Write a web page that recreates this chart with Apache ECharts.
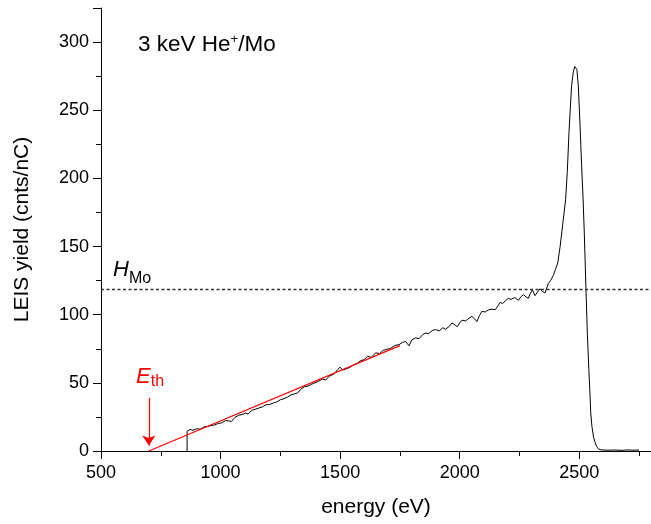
<!DOCTYPE html>
<html>
<head>
<meta charset="utf-8">
<script src="https://cdn.jsdelivr.net/npm/echarts@6/dist/echarts.min.js"></script>
<style>html,body{margin:0;padding:0;background:#fff}#c{width:651px;height:524px}</style>
</head>
<body>
<div id="c"></div>
<script>
// ---- data ----
const energy = [860,860,872,885,900,915,930,945,960,975,990,1005,1020,1035,1045,1060,1075,1090,1105,1115,1130,1145,1160,1175,1190,1205,1220,1235,1250,1265,1280,1295,1310,1322,1335,1350,1365,1380,1395,1410,1426,1440,1455,1475,1490,1500,1510,1525,1540,1555,1570,1585,1600,1615,1630,1649,1665,1680,1695,1710,1730,1746,1760,1774,1788,1800,1815,1830,1845,1857,1870,1885,1899,1915,1930,1940,1955,1968,1980,1990,2000,2010,2025,2040,2051,2062,2072,2083,2093,2107,2120,2135,2149,2162,2169,2180,2192,2204,2215,2230,2246,2255,2267,2278,2287,2296,2304,2310,2315,2325,2336,2346,2357,2364,2371,2380,2392,2400,2410,2420,2430,2443,2450,2457,2463,2468,2475,2481,2485,2490,2496,2503,2510,2516,2521,2528,2534,2540,2544,2548,2553,2560,2565,2572,2580,2592,2620,2650,2680,2700,2720,2750];
const leisYield = [0,14.5,15.8,15.2,16.3,16.0,17.6,17.9,18.7,19.1,20.2,20.6,22.3,22.1,21.6,24.6,26.2,26.8,27.9,27.0,29.8,30.6,31.5,32.4,33.9,34.1,35.2,36.0,37.6,38.4,39.6,41.2,42.0,42.6,45.2,47.1,47.6,48.9,50.1,51.2,52.7,52.1,54.9,56.6,59.8,61.5,59.4,60.2,61.3,63.2,64.1,66.2,67.0,69.5,68.7,72.0,71.5,73.8,74.6,75.2,77.5,78.0,79.6,80.3,77.2,81.5,83.0,82.4,85.3,86.5,86.0,88.4,89.1,88.2,90.5,89.3,91.2,94.0,92.5,91.2,94.0,96.0,95.4,97.6,98.7,97.0,95.0,99.5,102.4,102.0,103.5,104.0,103.7,107.0,109.0,108.2,110.4,112.0,111.2,112.6,110.5,113.0,114.7,113.0,112.0,115.8,118.4,115.8,114.0,116.5,119.0,117.0,116.0,119.5,123.0,125.0,129.0,133.0,138.0,150.0,165.0,184.6,205.0,233.6,253.0,268.0,278.0,282.0,282.6,280.0,268.0,240.0,209.0,185.0,160.0,119.0,85.0,60.0,45.0,28.0,18.0,10.0,7.0,3.5,1.6,0.8,0.6,0.7,0.5,0.8,0.6,0.7];
const fitEnergy = [700, 1750];
const fitYield = [0, 77.3];
const hMoLevel = 119;
const eThreshold = 700;
const arrowFromYield = 39;
const arrowToYield = 4;
const xMin = 500, xMax = 2800, xStep = 500, xLastLabel = 2500;
const yMin = 0, yMax = 325, yStep = 50, yLastLabel = 300;
const titleText = '3 keV He{sup|+}/Mo';
const xName = 'energy (eV)';
const yName = 'LEIS yield (cnts/nC)';
const hMoLabelAt = [630, 132.7];
const eThLabelAt = [705, 54.4];

// ---- chart ----
const FONT = 'Liberation Sans, Arial, sans-serif';
const spectrum = energy.map((e, i) => [e, leisYield[i]]);
const fit = fitEnergy.map((e, i) => [e, fitYield[i]]);

const chart = echarts.init(document.getElementById('c'), null, {renderer: 'canvas'});
chart.setOption({
  animation: false,
  title: {
    text: titleText,
    left: 138, top: 33, padding: 0,
    textStyle: {
      fontFamily: FONT, fontSize: 22.5, fontWeight: 'normal', color: '#000',
      rich: { sup: { fontFamily: FONT, fontSize: 13, verticalAlign: 'top', color: '#000' } }
    }
  },
  grid: { left: 101, right: 0, top: 8, bottom: 73, containLabel: false },
  xAxis: {
    type: 'value', min: xMin, max: xMax, interval: xStep,
    name: xName, nameLocation: 'middle', nameGap: 46,
    nameTextStyle: { fontFamily: FONT, fontSize: 21, color: '#000' },
    axisLine: { show: true, onZero: false, lineStyle: { color: '#000', width: 1 } },
    axisTick: { show: true, inside: false, length: 8, lineStyle: { color: '#000' } },
    minorTick: { show: true, splitNumber: 2, length: 5, lineStyle: { color: '#000' } },
    axisLabel: {
      fontFamily: FONT, fontSize: 18, color: '#000', margin: 13, showMaxLabel: false,
      formatter: v => (v % xStep === 0 && v <= xLastLabel) ? String(v) : ''
    },
    splitLine: { show: false }
  },
  yAxis: {
    type: 'value', min: yMin, max: yMax, interval: yStep,
    name: yName, nameLocation: 'middle', nameGap: 68, nameRotate: 90,
    nameTextStyle: { fontFamily: FONT, fontSize: 21, color: '#000' },
    axisLine: { show: true, lineStyle: { color: '#000', width: 1 } },
    axisTick: { show: true, inside: false, length: 8, lineStyle: { color: '#000' } },
    minorTick: { show: true, splitNumber: 2, length: 5, lineStyle: { color: '#000' } },
    axisLabel: {
      fontFamily: FONT, fontSize: 18, color: '#000', margin: 12, showMaxLabel: false,
      formatter: v => (v % yStep === 0 && v <= yLastLabel) ? String(v) : ''
    },
    splitLine: { show: false }
  },
  series: [
    {
      type: 'line', data: spectrum, showSymbol: false, symbol: 'none', smooth: false,
      lineStyle: { color: '#000', width: 1 }, z: 2,
      markLine: {
        silent: true, symbol: ['none', 'none'], animation: false,
        label: { show: false },
        lineStyle: { color: '#333', width: 1.4, type: [3, 2.5] },
        data: [{ yAxis: hMoLevel }]
      },
      markPoint: {
        silent: true, symbol: 'circle', symbolSize: 1, animation: false,
        itemStyle: { color: 'rgba(0,0,0,0)' },
        data: [{
          coord: hMoLabelAt,
          label: {
            show: true, position: 'inside',
            formatter: '{h|H}{s|Mo}',
            rich: {
              h: { fontFamily: FONT, fontSize: 22, fontStyle: 'italic', color: '#000', lineHeight: 32 },
              s: { fontFamily: FONT, fontSize: 16, color: '#000', lineHeight: 12, verticalAlign: 'bottom' }
            }
          }
        }]
      }
    },
    {
      type: 'line', data: fit, showSymbol: false, symbol: 'none',
      lineStyle: { color: '#ff0000', width: 1.2 }, z: 3,
      markLine: {
        silent: true, symbol: ['none', 'arrow'], symbolSize: 10, animation: false,
        label: { show: false },
        lineStyle: { color: '#ff0000', width: 1.2, type: 'solid' },
        itemStyle: { color: '#ff0000' },
        data: [[{ coord: [eThreshold, arrowFromYield] }, { coord: [eThreshold, arrowToYield] }]]
      },
      markPoint: {
        silent: true, symbol: 'circle', symbolSize: 1, animation: false,
        itemStyle: { color: 'rgba(0,0,0,0)' },
        data: [{
          coord: eThLabelAt,
          label: {
            show: true, position: 'inside',
            formatter: '{e|E}{s|th}',
            rich: {
              e: { fontFamily: FONT, fontSize: 22, fontStyle: 'italic', color: '#ff0000', lineHeight: 26 },
              s: { fontFamily: FONT, fontSize: 16, color: '#ff0000', lineHeight: 14, verticalAlign: 'bottom' }
            }
          }
        }]
      }
    }
  ]
});
</script>
</body>
</html>
